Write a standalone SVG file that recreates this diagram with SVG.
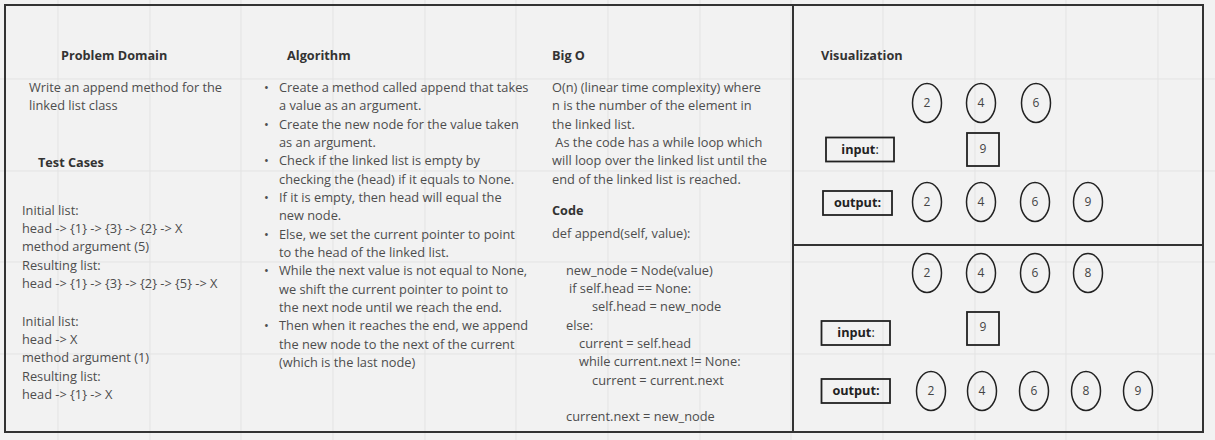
<svg xmlns="http://www.w3.org/2000/svg" width="1215" height="440" viewBox="0 0 1215 440">
<style>
.grid line{stroke:#e3e3e3;stroke-width:1}
.frame{fill:none;stroke:#333;stroke-width:2}
.h{font-family:"Open Sans","Liberation Sans",sans-serif;font-size:12.7px;font-weight:bold;fill:#333}
.t{font-family:"Open Sans","Liberation Sans",sans-serif;font-size:12.8px;fill:#4d4d4d}
.node ellipse{fill:none;stroke:#222;stroke-width:1.5}
.node rect{fill:none;stroke:#222;stroke-width:1.8}
.n{font-family:"Open Sans","Liberation Sans",sans-serif;font-size:12px;fill:#444;text-anchor:middle}
.lb{font-family:"Open Sans","Liberation Sans",sans-serif;font-size:12.7px;font-weight:bold;fill:#222;text-anchor:middle}
</style>
<rect width="1215" height="440" fill="#f2f2f2"/>
<g class="grid">
<line x1="58" y1="0" x2="58" y2="440"/><line x1="150" y1="0" x2="150" y2="440"/><line x1="241" y1="0" x2="241" y2="440"/><line x1="333" y1="0" x2="333" y2="440"/><line x1="425" y1="0" x2="425" y2="440"/><line x1="516" y1="0" x2="516" y2="440"/><line x1="608" y1="0" x2="608" y2="440"/><line x1="700" y1="0" x2="700" y2="440"/><line x1="791" y1="0" x2="791" y2="440"/><line x1="883" y1="0" x2="883" y2="440"/><line x1="975" y1="0" x2="975" y2="440"/><line x1="1066" y1="0" x2="1066" y2="440"/><line x1="1158" y1="0" x2="1158" y2="440"/>
<line x1="0" y1="79" x2="1215" y2="79"/><line x1="0" y1="171" x2="1215" y2="171"/><line x1="0" y1="262" x2="1215" y2="262"/><line x1="0" y1="354" x2="1215" y2="354"/>
</g>
<g id="frames">
<rect class="frame" x="5" y="5" width="788" height="427"/>
<rect class="frame" x="793" y="5" width="410" height="240"/>
<rect class="frame" x="793" y="245" width="410" height="187"/>
</g>
<g id="problem-domain">
<text class="h" x="61" y="60">Problem Domain</text>
<text class="t" x="29" y="92">Write an append method for the</text>
<text class="t" x="29" y="110">linked list class</text>
</g>
<g id="test-cases">
<text class="h" x="38" y="167">Test Cases</text>
<text class="t" x="22" y="215">Initial list:</text>
<text class="t" x="22" y="233">head -&gt; {1} -&gt; {3} -&gt; {2} -&gt; X</text>
<text class="t" x="22" y="251">method argument (5)</text>
<text class="t" x="22" y="270">Resulting list:</text>
<text class="t" x="22" y="288">head -&gt; {1} -&gt; {3} -&gt; {2} -&gt; {5} -&gt; X</text>
<text class="t" x="22" y="326">Initial list:</text>
<text class="t" x="22" y="344">head -&gt; X</text>
<text class="t" x="22" y="362">method argument (1)</text>
<text class="t" x="22" y="381">Resulting list:</text>
<text class="t" x="22" y="399">head -&gt; {1} -&gt; X</text>
</g>
<g id="algorithm">
<text class="h" x="287" y="60">Algorithm</text>
<text class="t" x="264" y="92">•</text><text class="t" x="279" y="92">Create a method called append that takes</text>
<text class="t" x="279" y="110">a value as an argument.</text>
<text class="t" x="264" y="129">•</text><text class="t" x="279" y="129">Create the new node for the value taken</text>
<text class="t" x="279" y="147">as an argument.</text>
<text class="t" x="264" y="165">•</text><text class="t" x="279" y="165">Check if the linked list is empty by</text>
<text class="t" x="279" y="184">checking the (head) if it equals to None.</text>
<text class="t" x="264" y="202">•</text><text class="t" x="279" y="202">If it is empty, then head will equal the</text>
<text class="t" x="279" y="220">new node.</text>
<text class="t" x="264" y="239">•</text><text class="t" x="279" y="239">Else, we set the current pointer to point</text>
<text class="t" x="279" y="257">to the head of the linked list.</text>
<text class="t" x="264" y="275">•</text><text class="t" x="279" y="275">While the next value is not equal to None,</text>
<text class="t" x="279" y="294">we shift the current pointer to point to</text>
<text class="t" x="279" y="312">the next node until we reach the end.</text>
<text class="t" x="264" y="330">•</text><text class="t" x="279" y="330">Then when it reaches the end, we append</text>
<text class="t" x="279" y="349">the new node to the next of the current</text>
<text class="t" x="279" y="367">(which is the last node)</text>
</g>
<g id="big-o">
<text class="h" x="552" y="60">Big O</text>
<text class="t" x="552" y="92">O(n) (linear time complexity) where</text>
<text class="t" x="552" y="110">n is the number of the element in</text>
<text class="t" x="552" y="129">the linked list.</text>
<text class="t" x="552" y="147" xml:space="preserve"> As the code has a while loop which</text>
<text class="t" x="552" y="165">will loop over the linked list until the</text>
<text class="t" x="552" y="184">end of the linked list is reached.</text>
</g>
<g id="code">
<text class="h" x="552" y="215">Code</text>
<text class="t" x="552" y="238">def append(self, value):</text>
<text class="t" x="566" y="275">new_node = Node(value)</text>
<text class="t" x="569" y="293">if self.head == None:</text>
<text class="t" x="592" y="311">self.head = new_node</text>
<text class="t" x="566" y="330">else:</text>
<text class="t" x="579" y="348">current = self.head</text>
<text class="t" x="579" y="366">while current.next != None:</text>
<text class="t" x="592" y="385">current = current.next</text>
<text class="t" x="566" y="421">current.next = new_node</text>
</g>
<g id="visualization-title">
<text class="h" x="821" y="60">Visualization</text>
</g>
<g id="example1">
<g class="node" id="e1-in-2"><ellipse cx="927" cy="103" rx="14.5" ry="19.5"/><text class="n" x="927" y="107">2</text></g>
<g class="node" id="e1-in-4"><ellipse cx="981" cy="103" rx="14.5" ry="19.5"/><text class="n" x="981" y="107">4</text></g>
<g class="node" id="e1-in-6"><ellipse cx="1036" cy="103" rx="14.5" ry="19.5"/><text class="n" x="1036" y="107">6</text></g>
<g class="node" id="e1-input-label"><rect x="826" y="137.5" width="68" height="24"/><text class="lb" x="860" y="153.5">input<tspan font-weight="normal">:</tspan></text></g>
<g class="node" id="e1-input-9"><rect x="967" y="133" width="32" height="33"/><text class="n" x="983" y="153">9</text></g>
<g class="node" id="e1-output-label"><rect x="823" y="191" width="69" height="24"/><text class="lb" x="857.5" y="207">output:</text></g>
<g class="node" id="e1-out-2"><ellipse cx="927" cy="202" rx="14.5" ry="19.5"/><text class="n" x="927" y="206">2</text></g>
<g class="node" id="e1-out-4"><ellipse cx="981" cy="202" rx="14.5" ry="19.5"/><text class="n" x="981" y="206">4</text></g>
<g class="node" id="e1-out-6"><ellipse cx="1035" cy="202" rx="14.5" ry="19.5"/><text class="n" x="1035" y="206">6</text></g>
<g class="node" id="e1-out-9"><ellipse cx="1088" cy="202" rx="14.5" ry="19.5"/><text class="n" x="1088" y="206">9</text></g>
</g>
<g id="example2">
<g class="node" id="e2-in-2"><ellipse cx="927" cy="273" rx="14.5" ry="19.5"/><text class="n" x="927" y="277">2</text></g>
<g class="node" id="e2-in-4"><ellipse cx="981" cy="273" rx="14.5" ry="19.5"/><text class="n" x="981" y="277">4</text></g>
<g class="node" id="e2-in-6"><ellipse cx="1035" cy="273" rx="14.5" ry="19.5"/><text class="n" x="1035" y="277">6</text></g>
<g class="node" id="e2-in-8"><ellipse cx="1088" cy="273" rx="14.5" ry="19.5"/><text class="n" x="1088" y="277">8</text></g>
<g class="node" id="e2-input-label"><rect x="821.5" y="321" width="68.5" height="24"/><text class="lb" x="856" y="337">input<tspan font-weight="normal">:</tspan></text></g>
<g class="node" id="e2-input-9"><rect x="967" y="312" width="32" height="33"/><text class="n" x="983" y="331">9</text></g>
<g class="node" id="e2-output-label"><rect x="821.5" y="379" width="68.5" height="24"/><text class="lb" x="856" y="395">output:</text></g>
<g class="node" id="e2-out-2"><ellipse cx="931" cy="391" rx="14.5" ry="19.5"/><text class="n" x="931" y="395">2</text></g>
<g class="node" id="e2-out-4"><ellipse cx="982" cy="391" rx="14.5" ry="19.5"/><text class="n" x="982" y="395">4</text></g>
<g class="node" id="e2-out-6"><ellipse cx="1034" cy="391" rx="14.5" ry="19.5"/><text class="n" x="1034" y="395">6</text></g>
<g class="node" id="e2-out-8"><ellipse cx="1086" cy="391" rx="14.5" ry="19.5"/><text class="n" x="1086" y="395">8</text></g>
<g class="node" id="e2-out-9"><ellipse cx="1138" cy="391" rx="14.5" ry="19.5"/><text class="n" x="1138" y="395">9</text></g>
</g>
<g id="connectors"></g>
</svg>
